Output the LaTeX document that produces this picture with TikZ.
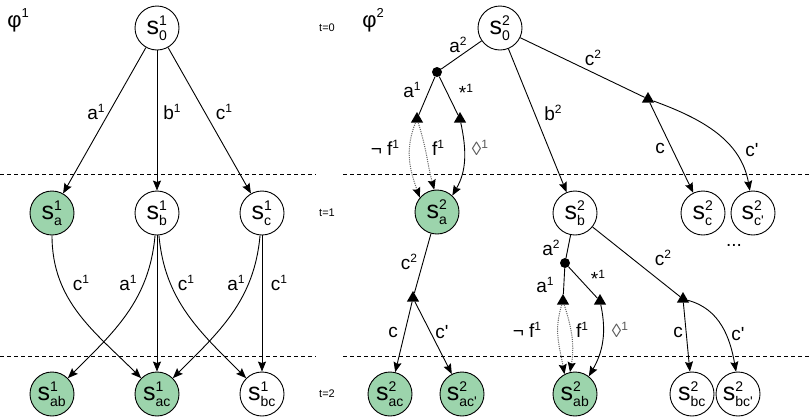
\documentclass[tikz,border=0pt]{standalone}
\usepackage{amsmath}
\usepackage{fontspec}
\setmainfont{Liberation Sans}
\usetikzlibrary{arrows.meta,shapes.geometric}
\DeclareMathSizes{25}{25}{14}{10}
\definecolor{stgreen}{HTML}{9CD4AC}
\newcommand\stt[2]{$\text{s}^{\text{#1}}_{\text{#2}}$}
\newcommand\lb[2]{#1\raisebox{0.4em}{\fontsize{12}{12}\selectfont #2}}
\begin{document}
\begin{tikzpicture}[x=1pt,y=1pt,
 st/.style={circle,draw,line width=0.9pt,minimum size=44pt,inner sep=0pt,font=\fontsize{25}{28}\selectfont},
 gs/.style={st,fill=stgreen},
 lbl/.style={font=\fontsize{19}{22}\selectfont,inner sep=1pt},
 tl/.style={font=\fontsize{11}{13}\selectfont,inner sep=1pt},
 ar/.style={line width=0.9pt,-{Stealth[length=10pt,width=8pt,inset=1.5pt,color=black]}},
 ln/.style={line width=0.9pt},
 dt/.style={ar,line width=1pt,dash pattern=on 1.1pt off 1.1pt,draw=black!60},
 tri/.style={regular polygon,regular polygon sides=3,fill=black,inner sep=0pt,minimum size=14pt},
 dotn/.style={circle,fill=black,inner sep=0pt,minimum size=10pt},
 sep/.style={line width=0.8pt,dash pattern=on 4pt off 3pt}]
\useasboundingbox (0,0) rectangle (811,-416);
% separators
\draw[sep] (0,-174) -- (316,-174);
\draw[sep] (0,-356) -- (316,-356);
\draw[sep] (343,-174) -- (811,-174);
\draw[sep] (343,-356) -- (811,-356);
% titles and time labels
\node[font=\fontsize{22}{26}\selectfont,inner sep=0pt] (phi1) at (18,-20) {φ\raisebox{0.45em}{\fontsize{13}{13}\selectfont 1}};
\node[font=\fontsize{22}{26}\selectfont,inner sep=0pt] (phi2) at (373,-20) {φ\raisebox{0.45em}{\fontsize{13}{13}\selectfont 2}};
\node[tl] (t0) at (327,-28) {t=0};
\node[tl] (t1l) at (327,-213) {t=1};
\node[tl] (t2l) at (327,-394) {t=2};
% left panel
\node[st] (l0) at (157,-28) {\stt{1}{0}};
\node[gs] (la) at (52,-213) {\stt{1}{a}};
\node[st] (lb) at (157,-213) {\stt{1}{b}};
\node[st] (lc) at (262,-213) {\stt{1}{c}};
\node[gs] (lab) at (52,-394) {\stt{1}{ab}};
\node[gs] (lac) at (157,-394) {\stt{1}{ac}};
\node[st] (lbc) at (262,-394) {\stt{1}{bc}};
\draw[ar] (l0) -- (la);
\draw[ar] (l0) -- (lb);
\draw[ar] (l0) -- (lc);
\draw[ar] (la) to[out=-90,in=135] (lac);
\draw[ar] (lb) to[out=-95,in=45] (lab);
\draw[ar] (lb) -- (lac);
\draw[ar] (lb) to[out=-85,in=135] (lbc);
\draw[ar] (lc) to[out=-95,in=45] (lac);
\draw[ar] (lc) -- (lbc);
\node[lbl] (e1) at (96,-112) {\lb{a}{1}};
\node[lbl] (e2) at (172,-112) {\lb{b}{1}};
\node[lbl] (e3) at (224,-112) {\lb{c}{1}};
\node[lbl] (e4) at (81,-283) {\lb{c}{1}};
\node[lbl] (e5) at (128,-283) {\lb{a}{1}};
\node[lbl] (e6) at (186,-283) {\lb{c}{1}};
\node[lbl] (e7) at (236,-283) {\lb{a}{1}};
\node[lbl] (e8) at (279,-283) {\lb{c}{1}};
% right panel
\node[st] (r0) at (500,-28) {\stt{2}{0}};
\node[dotn] (d1) at (437,-72) {};
\node[tri] (tr1) at (417,-119) {};
\node[tri] (tr2) at (460,-119) {};
\node[gs] (ra) at (437,-212) {\stt{2}{a}};
\node[st] (rb) at (575,-213) {\stt{2}{b}};
\node[tri] (tr3) at (648,-99) {};
\node[st] (rc) at (703,-213) {\stt{2}{c}};
\node[st] (rcp) at (753,-213) {\stt{2}{c\textquotesingle}};
\node[tri] (tr4) at (413,-298) {};
\node[gs] (rac) at (390,-394) {\stt{2}{ac}};
\node[gs] (racp) at (462,-394) {\stt{2}{ac\textquotesingle}};
\node[dotn] (d2) at (565,-263) {};
\node[tri] (tr5) at (563,-301) {};
\node[tri] (tr6) at (600,-301) {};
\node[gs] (rab) at (575,-394) {\stt{2}{ab}};
\node[tri] (tr7) at (683,-299) {};
\node[st] (rbc) at (692,-394) {\stt{2}{bc}};
\node[st] (rbcp) at (738,-394) {\stt{2}{bc\textquotesingle}};
\draw[ln] (r0) -- (d1);
\draw[ln] (d1) -- (tr1);
\draw[ln] (d1) -- (tr2);
\draw[dt] (tr1) to[out=-112,in=110] (ra.140);
\draw[dt] (tr1) to[out=-72,in=105] (ra.97);
\draw[ar] (tr2) to[out=-78,in=60] (ra.47);
\draw[ar] (r0) -- (rb);
\draw[ln] (r0) -- (tr3);
\draw[ar] (tr3) -- (rc);
\draw[ar] (tr3) to[out=-20,in=100] (rcp.98);
\draw[ln] (ra) -- (tr4);
\draw[ar] (tr4) -- (rac);
\draw[ar] (tr4) -- (racp);
\draw[ln] (rb) -- (d2);
\draw[ln] (d2) -- (tr5);
\draw[ln] (d2) -- (tr6);
\draw[dt] (tr5) to[out=-108,in=100] (rab.118);
\draw[dt] (tr5) to[out=-72,in=80] (rab.103);
\draw[ar] (tr6) to[out=-78,in=60] (rab.52);
\draw[ln] (rb) -- (tr7);
\draw[ar] (tr7) -- (rbc);
\draw[ar] (tr7) to[out=-15,in=100] (rbcp.95);
\node[lbl] (f1) at (458,-45) {\lb{a}{2}};
\node[lbl] (f2) at (412,-90) {\lb{a}{1}};
\node[lbl] (f3) at (466,-92) {\lb{*}{1}};
\node[lbl] (f4) at (385,-148) {\lb{¬ f}{1}};
\node[lbl] (f5) at (438,-148) {\lb{f}{1}};
\node[lbl,text=black!65] (f6) at (480,-148) {\lb{◊}{1}};
\node[lbl] (f7) at (553,-113) {\lb{b}{2}};
\node[lbl] (f8) at (593,-58) {\lb{c}{2}};
\node[lbl] (f9) at (660,-148) {c};
\node[lbl] (f10) at (752,-150) {c\textquotesingle};
\node[lbl] (f11) at (734,-245) {...};
\node[lbl] (g1) at (409,-262) {\lb{c}{2}};
\node[lbl] (g2) at (393,-332) {c};
\node[lbl] (g3) at (442,-332) {c\textquotesingle};
\node[lbl] (g4) at (551,-248) {\lb{a}{2}};
\node[lbl] (g5) at (545,-285) {\lb{a}{1}};
\node[lbl] (g6) at (598,-278) {\lb{*}{1}};
\node[lbl] (g7) at (527,-330) {\lb{¬ f}{1}};
\node[lbl] (g8) at (582,-330) {\lb{f}{1}};
\node[lbl,text=black!65] (g9) at (620,-330) {\lb{◊}{1}};
\node[lbl] (g10) at (663,-258) {\lb{c}{2}};
\node[lbl] (g11) at (678,-332) {c};
\node[lbl] (g12) at (738,-334) {c\textquotesingle};
\end{tikzpicture}
\end{document}
